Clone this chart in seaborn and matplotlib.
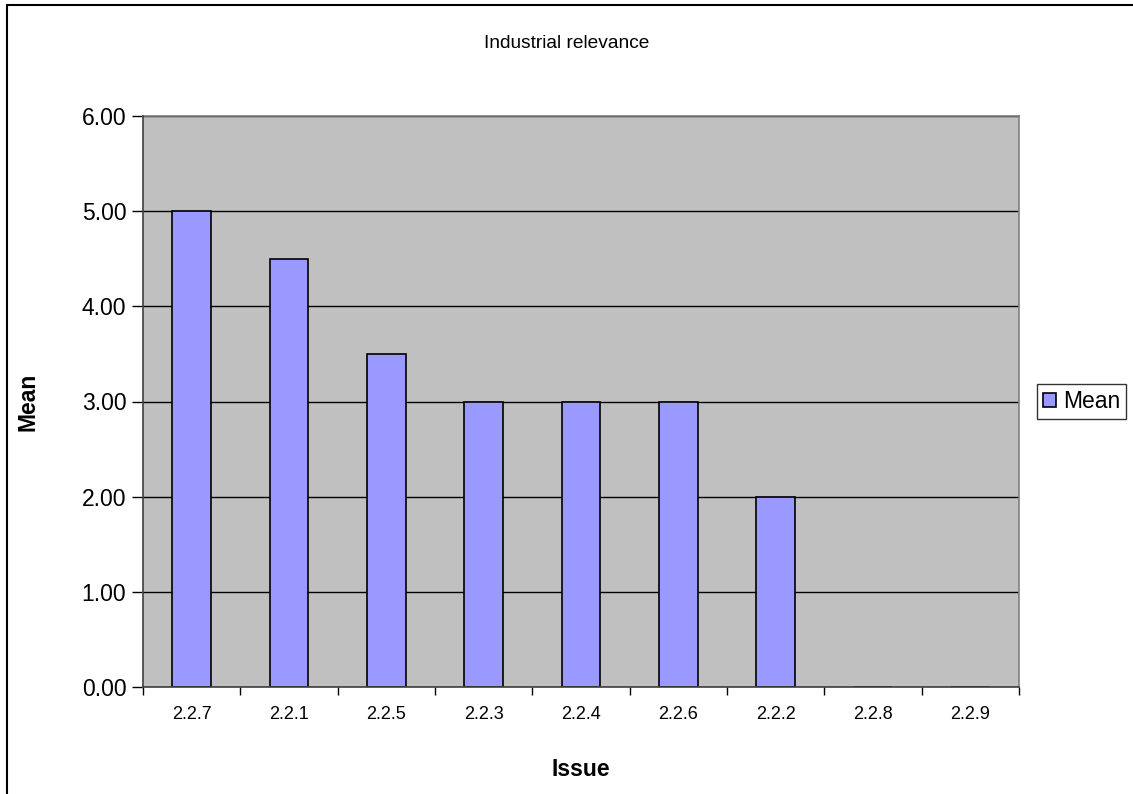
import matplotlib
matplotlib.use("Agg")
import matplotlib.pyplot as plt
import seaborn as sns
import pandas as pd
from matplotlib.patches import Rectangle, Patch
from matplotlib.ticker import FixedLocator

issues = ["2.2.7", "2.2.1", "2.2.5", "2.2.3", "2.2.4", "2.2.6", "2.2.2", "2.2.8", "2.2.9"]
means = [5.0, 4.5, 3.5, 3.0, 3.0, 3.0, 2.0, 0.0, 0.0]
y_ticks = [0, 1, 2, 3, 4, 5, 6]

sns.set_theme(style="white")
plt.rcParams['font.family'] = ['Liberation Sans', 'DejaVu Sans']
plt.rcParams['text.color'] = 'black'
plt.rcParams['axes.labelcolor'] = 'black'
plt.rcParams['xtick.labelcolor'] = 'black'
plt.rcParams['ytick.labelcolor'] = 'black'

df = pd.DataFrame({"Issue": issues, "Mean": means})

fig = plt.figure(figsize=(11.33, 7.94), dpi=100)
fig.patch.set_facecolor("white")
ax = fig.add_axes([143/1133, 1-687/794, (1019-143)/1133, (687-116)/794])
ax.set_facecolor("#C0C0C0")

sns.barplot(data=df, x="Issue", y="Mean", color="#9999FF", width=0.4,
            edgecolor="black", linewidth=1.2, saturation=1, ax=ax, zorder=3)

ax.set_xlim(-0.5, len(issues) - 0.5)
ax.set_ylim(0, 6)
ax.set_yticks(y_ticks)
ax.set_yticklabels([f"{v:.2f}" for v in y_ticks], fontsize=16.5, color="black")
ax.yaxis.grid(True, color="black", linewidth=1.0, zorder=1)
ax.set_axisbelow(True)

ax.tick_params(axis="x", which="major", length=0, labelsize=13, pad=14, labelcolor="black")
ax.xaxis.set_minor_locator(FixedLocator([i - 0.5 for i in range(len(issues) + 1)]))
ax.tick_params(axis="x", which="minor", length=6, width=1, color="black", direction="out", bottom=True)
ax.tick_params(axis="y", which="major", length=8, width=1, color="black", direction="out", left=True, pad=4)

for s in ["left", "bottom"]:
    ax.spines[s].set_color("#404040")
    ax.spines[s].set_linewidth(1.2)
    ax.spines[s].set_zorder(5)
for s in ["top", "right"]:
    ax.spines[s].set_color("#808080")
    ax.spines[s].set_linewidth(1.2)

ax.set_xlabel("Issue", fontsize=16.5, fontweight="bold", color="black")
ax.set_ylabel("Mean", fontsize=16.5, fontweight="bold", color="black")
ax.yaxis.set_label_coords((40-143)/876, 0.5)
ax.xaxis.set_label_coords(0.5, (687-758)/571)

fig.text(0.5, 1-44/794, "Industrial relevance", ha="center", va="center", fontsize=13.8, color="black")

handle = Patch(facecolor="#9999FF", edgecolor="black", linewidth=1.2, label="Mean")
leg = fig.legend(handles=[handle], loc="center left", bbox_to_anchor=(1037/1133, 1-401.5/794),
                 fontsize=16.5, frameon=True, fancybox=False, handlelength=0.6, handleheight=0.6,
                 handletextpad=0.3, borderpad=0.25, borderaxespad=0)
leg.get_frame().set_edgecolor("black")
leg.get_frame().set_linewidth(1.0)
for t in leg.get_texts():
    t.set_color("black")

# outer chart border (top and left visible)
fig.patches.append(Rectangle((7/1133, -0.05), 1.2, 1-4.5/794 + 0.05, transform=fig.transFigure,
                             fill=False, edgecolor="black", linewidth=1.5))

fig.savefig("out.png", dpi=100)
